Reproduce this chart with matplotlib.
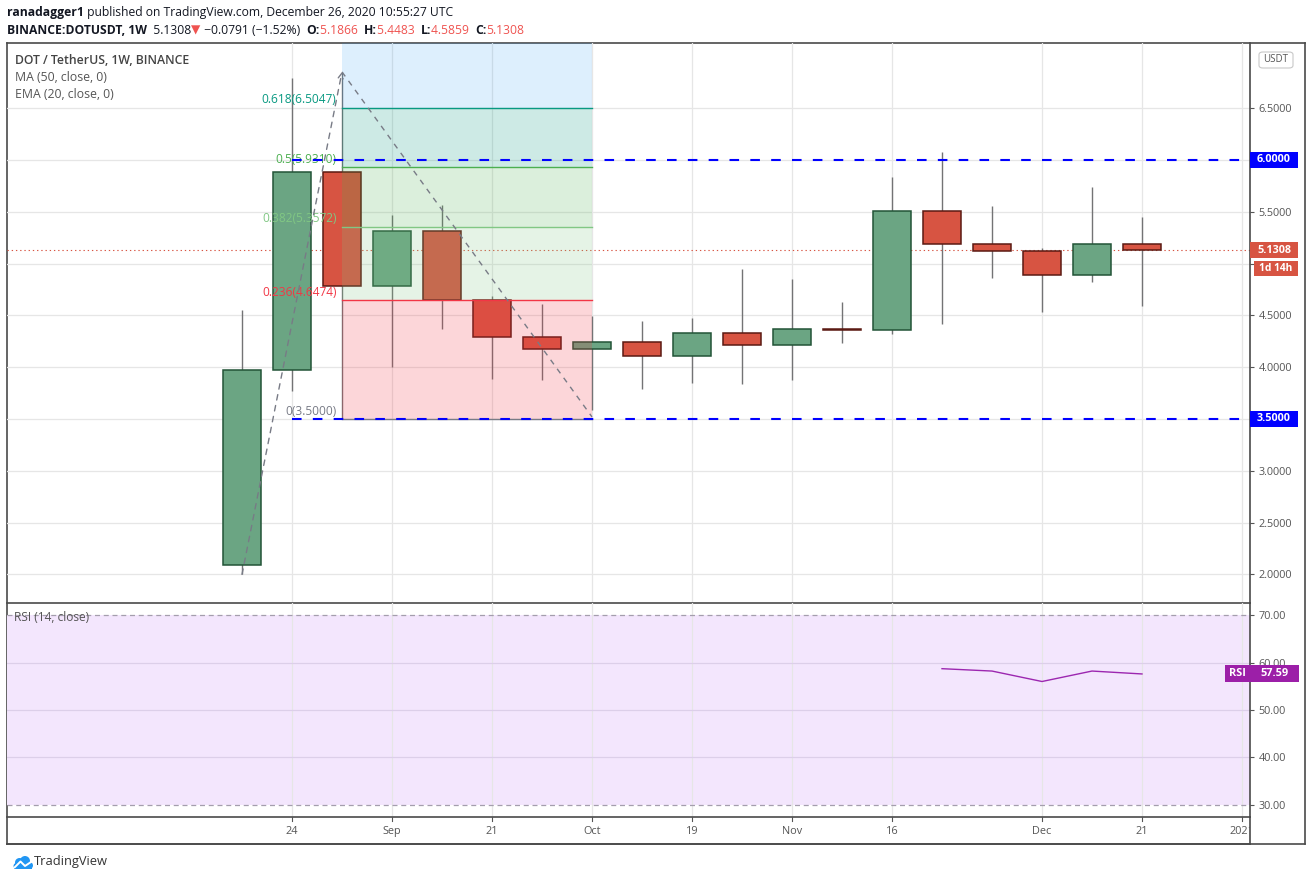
import matplotlib
matplotlib.use("Agg")
import matplotlib.pyplot as plt
from matplotlib.patches import Rectangle, FancyBboxPatch, Circle

W, H = 1311, 881
plt.rcParams["font.family"] = ["Open Sans", "DejaVu Sans"]

# weekly candles, index 0 = week of 17 Aug 2020
opens = [2.09, 3.97, 5.88, 4.78, 5.31, 4.65, 4.29, 4.18, 4.24, 4.105,
         4.33, 4.21, 4.365, 4.355, 5.505, 5.186, 5.12, 4.887, 5.1866]
highs = [4.55, 6.79, 6.85, 5.47, 5.57, 4.69, 4.61, 4.49, 4.45, 4.475,
         4.95, 4.85, 4.63, 5.84, 6.08, 5.56, 5.15, 5.74, 5.4483]
lows = [2.00, 3.77, 3.50, 4.00, 4.37, 3.89, 3.88, 3.59, 3.79, 3.85,
        3.84, 3.88, 4.23, 4.32, 4.42, 4.86, 4.53, 4.82, 4.5859]
closes = [3.97, 5.88, 4.78, 5.31, 4.65, 4.29, 4.18, 4.24, 4.105, 4.33,
          4.21, 4.365, 4.355, 5.505, 5.186, 5.12, 4.887, 5.1866, 5.1308]

rsi_x = [14, 15, 16, 17, 18]
rsi_vals = [58.7, 58.2, 56.0, 58.2, 57.59]

fib_ratios = ["0", "0.236", "0.382", "0.5", "0.618"]
fib_prices = [3.5, 4.6474, 5.3572, 5.9310, 6.5047]
fib_colors = ["#787b86", "#f23645", "#81c784", "#4caf50", "#089981"]
fib_x = [2, 7]

trend_x = [0, 2, 7]
trend_y = [2.0, 6.85, 3.52]

levels = [6.0, 3.5]
level_start = 1
last_price = 5.1308

time_ticks = [1, 3, 5, 7, 9, 11, 13, 16, 18, 20]
time_labels = ["24", "Sep", "21", "Oct", "19", "Nov", "16", "Dec", "21", "2021"]
price_ticks = [2.0, 2.5, 3.0, 3.5, 4.0, 4.5, 5.0, 5.5, 6.0, 6.5]
hidden_price_labels = [5.0]  # covered by the price tags in the reference
rsi_ticks = [30, 40, 50, 60, 70]

UP, UP_EDGE = "#6ba583", "#225437"
DN, DN_EDGE = "#d75442", "#5b1a13"
WICK = "#737375"
GRID = "#e6e6e6"
BORDER = "#4a4a4a"
AXTXT = "#555555"

XLIM = (-4.7, 20.16)
PLOT_L, PLOT_R = 7, 1250
MAIN_T, MAIN_B = 43, 603
RSI_B = 817
TIME_B = 844
OUTER_R = 1305


def fig_rect(x0, y0, x1, y1):
    return [x0 / W, 1 - y1 / H, (x1 - x0) / W, (y1 - y0) / H]


fig = plt.figure(figsize=(W / 100, H / 100), dpi=100)
fig.patch.set_facecolor("white")

# outer frame
frame = fig.add_axes(fig_rect(PLOT_L, MAIN_T, OUTER_R, TIME_B))
frame.set_xticks([])
frame.set_yticks([])
for s in frame.spines.values():
    s.set_color(BORDER)
    s.set_linewidth(1.2)
frame.patch.set_alpha(0)

ax = fig.add_axes(fig_rect(PLOT_L, MAIN_T, PLOT_R, MAIN_B))
ax_rsi = fig.add_axes(fig_rect(PLOT_L, MAIN_B, PLOT_R, RSI_B))
ax_time = fig.add_axes(fig_rect(PLOT_L, RSI_B, PLOT_R, TIME_B))

for a in (ax, ax_rsi, ax_time):
    a.set_xlim(*XLIM)
    a.patch.set_alpha(0)
    for s in a.spines.values():
        s.set_color(BORDER)
        s.set_linewidth(1.2)
    a.spines["left"].set_visible(False)
    a.spines["top"].set_visible(False)

ax.set_ylim(1.724, 7.129)
ax_rsi.set_ylim(27.47, 72.53)
ax_time.set_ylim(0, 1)

# grid
for a in (ax, ax_rsi):
    for t in time_ticks:
        a.axvline(t, color=GRID, lw=0.9, zorder=1)
for p in price_ticks:
    ax.axhline(p, color=GRID, lw=0.9, zorder=1)

# right price scale
ax.yaxis.tick_right()
ax.set_yticks(price_ticks)
ax.set_yticklabels(["" if p in hidden_price_labels else f"{p:.4f}"
                    for p in price_ticks])
ax.set_xticks([])
ax_rsi.yaxis.tick_right()
ax_rsi.set_yticks(rsi_ticks)
ax_rsi.set_yticklabels([f"{v:.2f}" for v in rsi_ticks])
ax_rsi.set_xticks([])
for a in (ax, ax_rsi):
    a.tick_params(axis="y", direction="out", length=3, width=0.8, color=AXTXT,
                  pad=3, labelsize=7.8, labelcolor=AXTXT)

# time axis
ax_time.set_yticks([])
ax_time.set_xticks([])
for t, lab in zip(time_ticks, time_labels):
    ax_time.plot([t, t], [1, 0.85], color=AXTXT, lw=0.8, clip_on=True)
    ax_time.text(t, 0.48, lab, ha="center", va="center", fontsize=7.8,
                 color=AXTXT, clip_on=True)

# candles
for i, (o, h, l, c) in enumerate(zip(opens, highs, lows, closes)):
    up = c >= o
    ax.vlines(i, l, h, color=WICK, lw=1.0, zorder=3)
    bottom = min(o, c)
    height = max(abs(c - o), 0.008)
    ax.bar(i, height, bottom=bottom, width=0.76, color=UP if up else DN,
           edgecolor=UP_EDGE if up else DN_EDGE, linewidth=1.1, zorder=4)

# fib extension zones drawn over candles
fills = ["#f23645", "#81c784", "#4caf50", "#089981"]
for k in range(len(fib_prices) - 1):
    ax.fill_between(fib_x, fib_prices[k], fib_prices[k + 1], color=fills[k],
                    alpha=0.2, lw=0, zorder=5)
ax.fill_between(fib_x, fib_prices[-1], ax.get_ylim()[1], color="#2196f3",
                alpha=0.15, lw=0, zorder=5)
for r, p, col in zip(fib_ratios, fib_prices, fib_colors):
    ax.plot(fib_x, [p, p], color=col, lw=1.0, zorder=6)
    ax.annotate(f"{r}({p:.4f})", xy=(fib_x[0], p), xytext=(-4, 1),
                textcoords="offset points", ha="right", va="bottom",
                fontsize=8.6, color=col, zorder=7)

# trend line
ax.plot(trend_x[1:], trend_y[1:], color="#787b86", lw=1.0,
        dashes=(4, 4), zorder=7)
ax.annotate("", xy=(trend_x[1], trend_y[1]), xytext=(trend_x[0], trend_y[0]),
            arrowprops=dict(arrowstyle="->", color="#787b86", lw=1.0,
                            linestyle=(0, (4, 4)), shrinkA=0, shrinkB=0,
                            mutation_scale=9),
            zorder=7)

# support / resistance
for lv in levels:
    ax.plot([level_start, XLIM[1]], [lv, lv], color="#0000ff", lw=1.5,
            dashes=(4.6, 5.4), zorder=8)

# last price line
ax.axhline(last_price, color="#d75442", lw=0.8, linestyle=(0, (1.2, 2.6)),
           zorder=2)

# RSI panel
ax_rsi.fill_between(XLIM, 30, 70, color="#f3e6fd", lw=0, zorder=0)
for v in (40, 50, 60):
    ax_rsi.axhline(v, color="#dccfe9", lw=0.9, zorder=1)
for v in (30, 70):
    ax_rsi.axhline(v, color="#a49ead", lw=0.9, dashes=(4, 3), zorder=2)
ax_rsi.plot(rsi_x, rsi_vals, color="#9c27b0", lw=1.0, zorder=3)
ax_rsi.text(0.006, 0.93, "RSI (14, close)", transform=ax_rsi.transAxes,
            fontsize=8.6, color=AXTXT, va="center", ha="left")

# legend text
ax.text(0.0065, 0.969, "DOT / TetherUS, 1W, BINANCE", transform=ax.transAxes,
        fontsize=8.8, color="#444444", va="center", ha="left",
        fontweight="semibold")
ax.text(0.0065, 0.9385, "MA (50, close, 0)", transform=ax.transAxes,
        fontsize=8.8, color="#555555", va="center", ha="left")
ax.text(0.0065, 0.908, "EMA (20, close, 0)", transform=ax.transAxes,
        fontsize=8.8, color="#555555", va="center", ha="left")


def tag(a, yval, label, fc, x0=PLOT_R, x1=1298, h=16, dy=0, size=7.8):
    ypix = H - a.transData.transform((0, yval))[1] + dy
    fig.add_artist(Rectangle((x0 / W, 1 - (ypix + h / 2) / H), (x1 - x0) / W,
                             h / H, transform=fig.transFigure, fc=fc,
                             ec="none", zorder=20))
    fig.text((x0 + x1) / 2 / W, 1 - ypix / H, label, ha="center",
             va="center", fontsize=size, color="white", fontweight="bold",
             zorder=21)


for lv in levels:
    tag(ax, lv, f"{lv:.4f}", "#0000ff")
tag(ax, last_price, f"{last_price:.4f}", "#d75442", h=16)
tag(ax, last_price, "1d 14h", "#d75442", x0=PLOT_R + 4, h=15, dy=18.5, size=7.4)
tag(ax_rsi, rsi_vals[-1], "RSI", "#9c1fa8", x0=1225, x1=PLOT_R, h=17)
tag(ax_rsi, rsi_vals[-1], f"{rsi_vals[-1]:.2f}", "#9c1fa8", x1=1299, h=17)

# currency box
fig.add_artist(FancyBboxPatch((1259 / W, 1 - 68 / H), 34 / W, 16 / H,
                              boxstyle="round,pad=0,rounding_size=0.003",
                              transform=fig.transFigure, fc="white",
                              ec="#c8c8c8", lw=0.8, zorder=20))
fig.text(1276 / W, 1 - 59.5 / H, "USDT", ha="center", va="center",
         fontsize=7, color=AXTXT, zorder=21)


# header
def runs(x, y, pieces, size):
    renderer = fig.canvas.get_renderer()
    for s, col, wt in pieces:
        t = fig.text(x / W, 1 - y / H, s, color=col, fontsize=size,
                     fontweight=wt, va="center", ha="left")
        x += t.get_window_extent(renderer=renderer).width


DARK, RED = "#131722", "#ef5350"
runs(7, 12.5, [("ranadagger1", DARK, "bold"),
               (" published on TradingView.com, December 26, 2020 10:55:27 UTC",
                DARK, "normal")], 8.7)
runs(7, 30, [("BINANCE:DOTUSDT, 1W", DARK, "bold"),
             ("  5.1308", DARK, "normal"),
             ("\u25bc", RED, "normal"),
             (" \u22120.0791 (\u22121.52%)  ", DARK, "normal"),
             ("O:", DARK, "bold"), ("5.1866  ", RED, "normal"),
             ("H:", DARK, "bold"), ("5.4483  ", RED, "normal"),
             ("L:", DARK, "bold"), ("4.5859  ", RED, "normal"),
             ("C:", DARK, "bold"), ("5.1308", RED, "normal")], 8.7)

# TradingView logo, drawn in a tiny pixel-scaled axes
ax_logo = fig.add_axes(fig_rect(12, 852, 34, 872))
ax_logo.set_xlim(0, 22)
ax_logo.set_ylim(0, 20)
ax_logo.axis("off")
logo = "#2196f3"
ax_logo.add_patch(Circle((7.5, 9.5), 4.5, fc=logo, ec="none"))
ax_logo.add_patch(Circle((13.0, 11.0), 5.0, fc=logo, ec="none"))
ax_logo.add_patch(Circle((17.5, 6.5), 3.5, fc=logo, ec="none"))
ax_logo.add_patch(Rectangle((1.5, 3.0), 18.5, 5.0, fc=logo, ec="none"))
ax_logo.add_patch(Circle((4.5, 6.0), 3.0, fc=logo, ec="none"))
ax_logo.plot([2.5, 8.5, 13.0, 20.5], [4.5, 10.5, 6.0, 11.0], color="white",
             lw=1.4, solid_capstyle="round")
fig.text(34 / W, 1 - 862 / H, "TradingView", ha="left", va="center",
         fontsize=9.3, color="#333333")

fig.savefig("out.png", dpi=100, facecolor="white")
